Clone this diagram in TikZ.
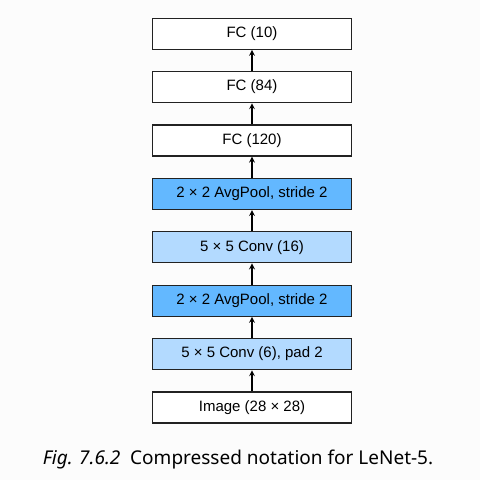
\documentclass[tikz,border=0pt]{standalone}
\usepackage{xcolor}
\usepackage{fontspec}
\setmainfont{Liberation Sans}
\newfontfamily\capfont{Noto Sans}
\usepackage{tikz}
\usetikzlibrary{positioning}

\definecolor{bgcol}{RGB}{252,252,252}
\definecolor{poolcol}{RGB}{99,184,255}
\definecolor{convcol}{RGB}{179,218,255}
\definecolor{edgecol}{RGB}{34,34,34}

\begin{document}
\begin{tikzpicture}[x=1pt, y=1pt,
    layer/.style={draw=edgecol, line width=1.3pt, fill=white,
      minimum width=198.7pt, minimum height=31pt, inner sep=0pt,
      font=\fontsize{15}{17}\selectfont},
    pool/.style={layer, fill=poolcol},
    conv/.style={layer, fill=convcol},
    flow/.style={->, >=stealth, line width=1.6pt, black}
  ]
\def\Gap{21.1pt}
\path[fill=bgcol] (0,0) rectangle (480,-480);
\useasboundingbox (0,0) rectangle (480,-480);

\node[layer] (img) at (252,-407.5) {Image (28 × 28)};
\node[conv, above=\Gap of img] (convA) {5 × 5 Conv (6), pad 2};
\node[pool, above=\Gap of convA] (poolA) {2 × 2 AvgPool, stride 2};
\node[conv, above=\Gap of poolA] (convB) {5 × 5 Conv (16)};
\node[pool, above=\Gap of convB] (poolB) {2 × 2 AvgPool, stride 2};
\node[layer, above=\Gap of poolB] (fcA) {FC (120)};
\node[layer, above=\Gap of fcA] (fcB) {FC (84)};
\node[layer, above=\Gap of fcB] (fcC) {FC (10)};

\draw[flow] (img) -- (convA);
\draw[flow] (convA) -- (poolA);
\draw[flow] (poolA) -- (convB);
\draw[flow] (convB) -- (poolB);
\draw[flow] (poolB) -- (fcA);
\draw[flow] (fcA) -- (fcB);
\draw[flow] (fcB) -- (fcC);

\node[font=\capfont\fontsize{19}{22}\selectfont] (caption) at (238,-460)
  {\textit{Fig. 7.6.2}\ \ Compressed notation for LeNet-5.};

\end{tikzpicture}
\end{document}
